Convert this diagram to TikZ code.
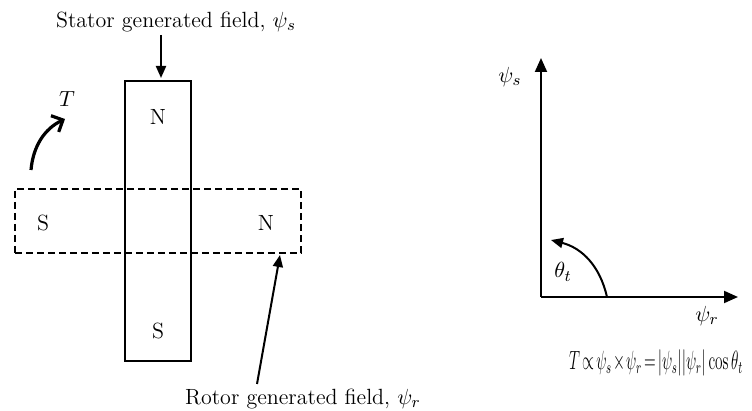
\documentclass[tikz,border=0pt]{standalone}
\usepackage{graphicx}
\usetikzlibrary{arrows.meta,positioning}
\tikzset{
  statorbox/.style={draw, line width=1pt, rectangle, minimum width=33pt, minimum height=140pt, inner sep=0pt},
  rotorbox/.style={draw, line width=1pt, rectangle, dash pattern=on 3.5pt off 2pt, minimum width=143pt, minimum height=32pt, inner sep=0pt},
  lbl/.style={font=\fontsize{11}{13}\selectfont, inner sep=1pt},
  arrow/.style={-{Triangle[length=6pt,width=5pt]}, line width=1pt},
  axis/.style={-{Triangle[length=7pt,width=6pt]}, line width=1pt},
  torque/.style={-{Straight Barb[length=4.5pt,width=9pt]}, line width=1.6pt}
}
\begin{document}
\begin{tikzpicture}[x=0.5pt, y=-0.5pt]
  \useasboundingbox (0,0) rectangle (752,411);
  % machine
  \node [statorbox] (stator) at (158,221) {};
  \node [rotorbox] (rotor) at (158,221) {};
  \node [lbl] (sn) at (158,117) {N};
  \node [lbl] (ss) at (158,331) {S};
  \node [lbl] (rs) at (43,223) {S};
  \node [lbl] (rn) at (266,223) {N};

  \node [lbl] (slbl) at (176,22) {Stator generated field, $\psi_s$};
  \node [lbl] (rlbl) at (303,399) {Rotor generated field, $\psi_r$};
  \coordinate (stail) at (161,35);
  \coordinate (stip) at (161,78);
  \coordinate (rtail) at (257,384);
  \coordinate (rtip) at (280,255);
  \draw [arrow] (stail) -- (stip);
  \draw [arrow] (rtail) -- (rtip);

  \node [lbl] (tq) at (67,99) {$T$};
  \coordinate (tqs) at (31,170);
  \coordinate (tqe) at (65,119);
  \draw [torque] (tqs) .. controls (33,147) and (44,129) .. (tqe);

  % vector diagram
  \coordinate (O) at (541,297);
  \coordinate (ys) at (541,58);
  \coordinate (xr) at (738,297);
  \draw [axis] (O) -- (ys);
  \draw [axis] (O) -- (xr);
  \node [lbl] (psis) at (510,77) {$\psi_s$};
  \node [lbl] (psir) at (707,316) {$\psi_r$};
  \coordinate (as) at (607,297);
  \coordinate (ae) at (551,240);
  \draw [arrow] (as) .. controls (600,266) and (582,248) .. (ae);
  \node [lbl] (th) at (563,272) {$\theta_t$};

  \node [lbl, font=\fontsize{12}{14}\selectfont] (eq) at (656,363)
    {\scalebox{0.64}[1.1]{\medmuskip=1.5mu \thickmuskip=2.5mu $T \propto \psi_s \times \psi_r = \bigl|\psi_s\bigr|\bigl|\psi_r\bigr|\cos\theta_t$}};
\end{tikzpicture}
\end{document}
